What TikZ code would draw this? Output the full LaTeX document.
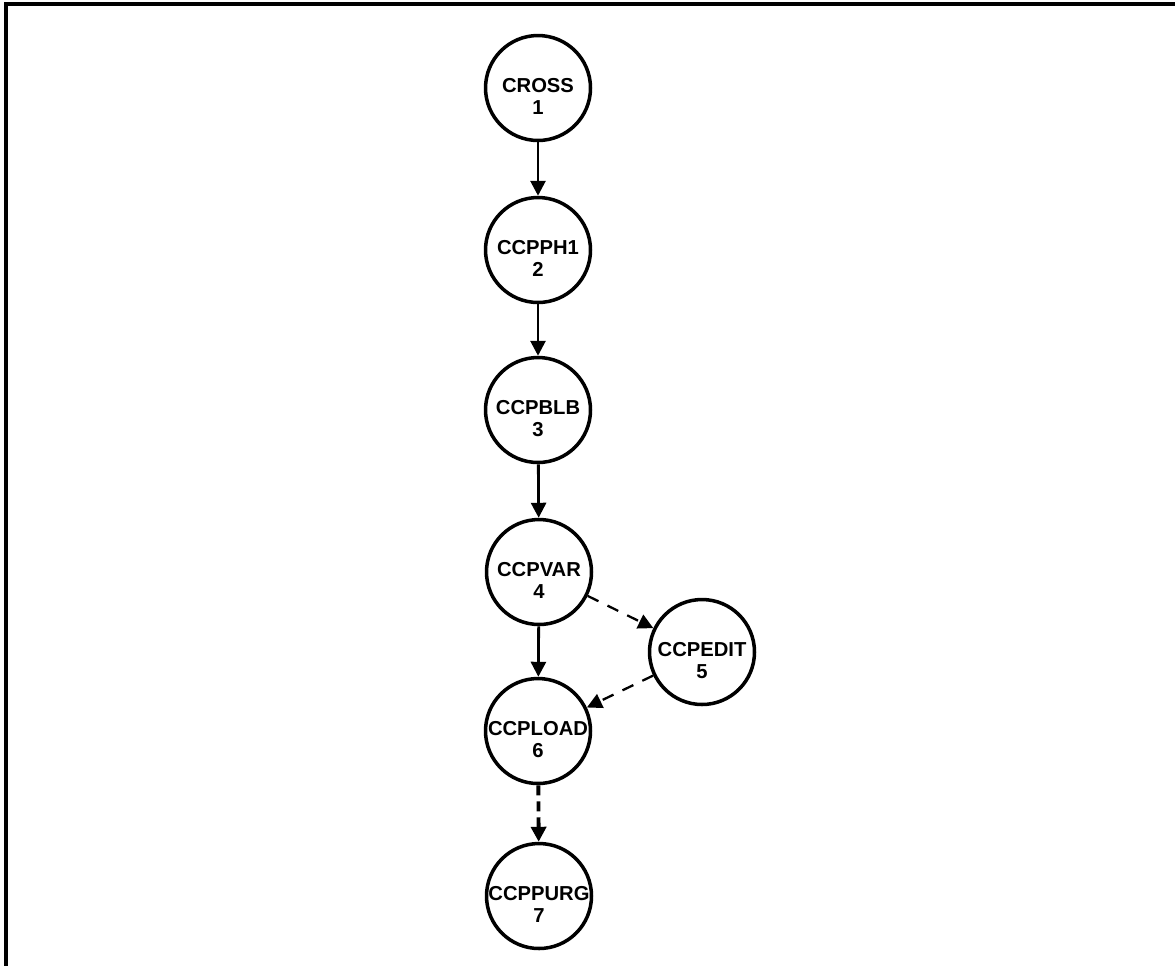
\documentclass[tikz,border=0pt]{standalone}
\usepackage{fontspec}
\setmainfont{Liberation Sans}
\usetikzlibrary{arrows.meta}
\begin{document}
\begin{tikzpicture}[x=0.02cm,y=-0.02cm,
  proc/.style={circle,draw,line width=2pt,minimum size=2.1cm,inner sep=0pt},
  lbl/.style={align=center,font=\fontsize{11.5}{13}\selectfont\bfseries,inner sep=0pt},
  tip/.style={-{Triangle[length=0.3cm,width=0.3cm]}},
  solidarr/.style={tip,line width=1.6pt},
  dasharr/.style={tip,line width=1.3pt,dash pattern=on 0.24cm off 0.2cm},
  thickdash/.style={tip,line width=2.2pt,dash pattern=on 0.2cm off 0.12cm}]
\useasboundingbox (0,0) rectangle (1175,965);
\coordinate (bl) at (6,975);
\coordinate (tl) at (6,4);
\coordinate (tr) at (1185,4);
\draw[line width=1.8pt] (bl) -- (tl) -- (tr);

\node[proc] (n1) at (538,88) {};
\node[proc] (n2) at (538,250) {};
\node[proc] (n3) at (538,410) {};
\node[proc] (n4) at (539,572) {};
\node[proc] (n5) at (702,652) {};
\node[proc] (n6) at (538,731) {};
\node[proc] (n7) at (539,896) {};

\node[lbl] (t1) at ([yshift=-0.17cm]n1.center) {CROSS\\1};
\node[lbl] (t2) at ([yshift=-0.17cm]n2.center) {CCPPH1\\2};
\node[lbl] (t3) at ([yshift=-0.17cm]n3.center) {CCPBLB\\3};
\node[lbl] (t4) at ([yshift=-0.17cm]n4.center) {CCPVAR\\4};
\node[lbl] (t5) at ([yshift=-0.17cm]n5.center) {CCPEDIT\\5};
\node[lbl] (t6) at ([yshift=-0.17cm]n6.center) {CCPLOAD\\6};
\node[lbl] (t7) at ([yshift=-0.17cm]n7.center) {CCPPURG\\7};

\draw[solidarr] (n1) -- (n2);
\draw[solidarr] (n2) -- (n3);
\draw[solidarr] (n3) -- (n4);
\draw[solidarr] (n4) -- (n6);
\draw[dasharr] (n4) -- (n5);
\draw[dasharr] (n5) -- (n6);
\draw[thickdash] (n6) -- (n7);
\end{tikzpicture}
\end{document}
